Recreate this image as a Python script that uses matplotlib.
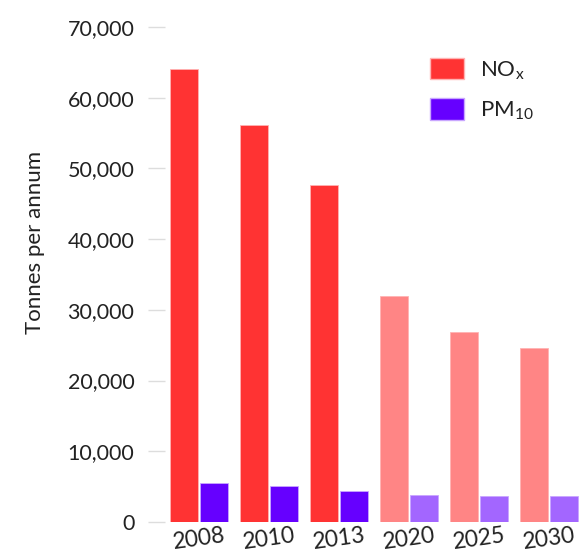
import numpy as np
import matplotlib.pyplot as plt
from matplotlib.patches import Patch

plt.rcParams['font.family'] = ['Lato', 'DejaVu Sans']

years = ['2008', '2010', '2013', '2020', '2025', '2030']
nox = [64000, 56100, 47700, 31900, 26800, 24600]
pm10 = [5500, 5100, 4400, 3800, 3700, 3700]
projected = [False, False, False, True, True, True]

nox_col = ['#ff8585' if p else '#ff3333' for p in projected]
pm_col = ['#a366ff' if p else '#6600ff' for p in projected]

fig = plt.figure(figsize=(5.86, 5.52), dpi=100)
ax = fig.add_axes([165 / 586, 30 / 552, 421 / 586, 495 / 552])

x = np.arange(len(years))
w = 0.4
ax.bar(x - 0.215, nox, w, color=nox_col, edgecolor='#ffb3b3', linewidth=0.6)
ax.bar(x + 0.215, pm10, w, color=pm_col, edgecolor='#c9a6ff', linewidth=0.6)

ax.set_xlim(-0.49, 5.53)
ax.set_ylim(0, 70000)
ax.set_yticks(range(0, 70001, 10000))
ax.set_yticklabels([f'{v:,}' for v in range(0, 70001, 10000)])
ax.set_xticks(x)
ax.set_xticklabels(years, rotation=8)

for s in ax.spines.values():
    s.set_visible(False)
ax.tick_params(axis='y', length=12, width=1, color='#dddddd', pad=10,
               labelsize=15.5, labelcolor='#222222')
ax.tick_params(axis='x', length=0, pad=2, labelsize=16.5, labelcolor='#222222')
ax.set_ylabel('Tonnes per annum', fontsize=16, color='#222222')
ax.yaxis.set_label_coords(-0.285, 0.565)

handles = [Patch(facecolor='#ff3333', edgecolor='#ffb3b3'),
           Patch(facecolor='#6600ff', edgecolor='#c9a6ff')]
fig.legend(handles, [r'NO$_\mathregular{x}$', r'PM$_\mathregular{10}$'],
           loc='upper left', bbox_to_anchor=(410 / 586, 1 - 38 / 552),
           frameon=False, fontsize=16, handlelength=1.55, handleheight=1.1,
           labelspacing=0.75, handletextpad=0.7, labelcolor='#222222')

fig.savefig('out.png', dpi=100)
